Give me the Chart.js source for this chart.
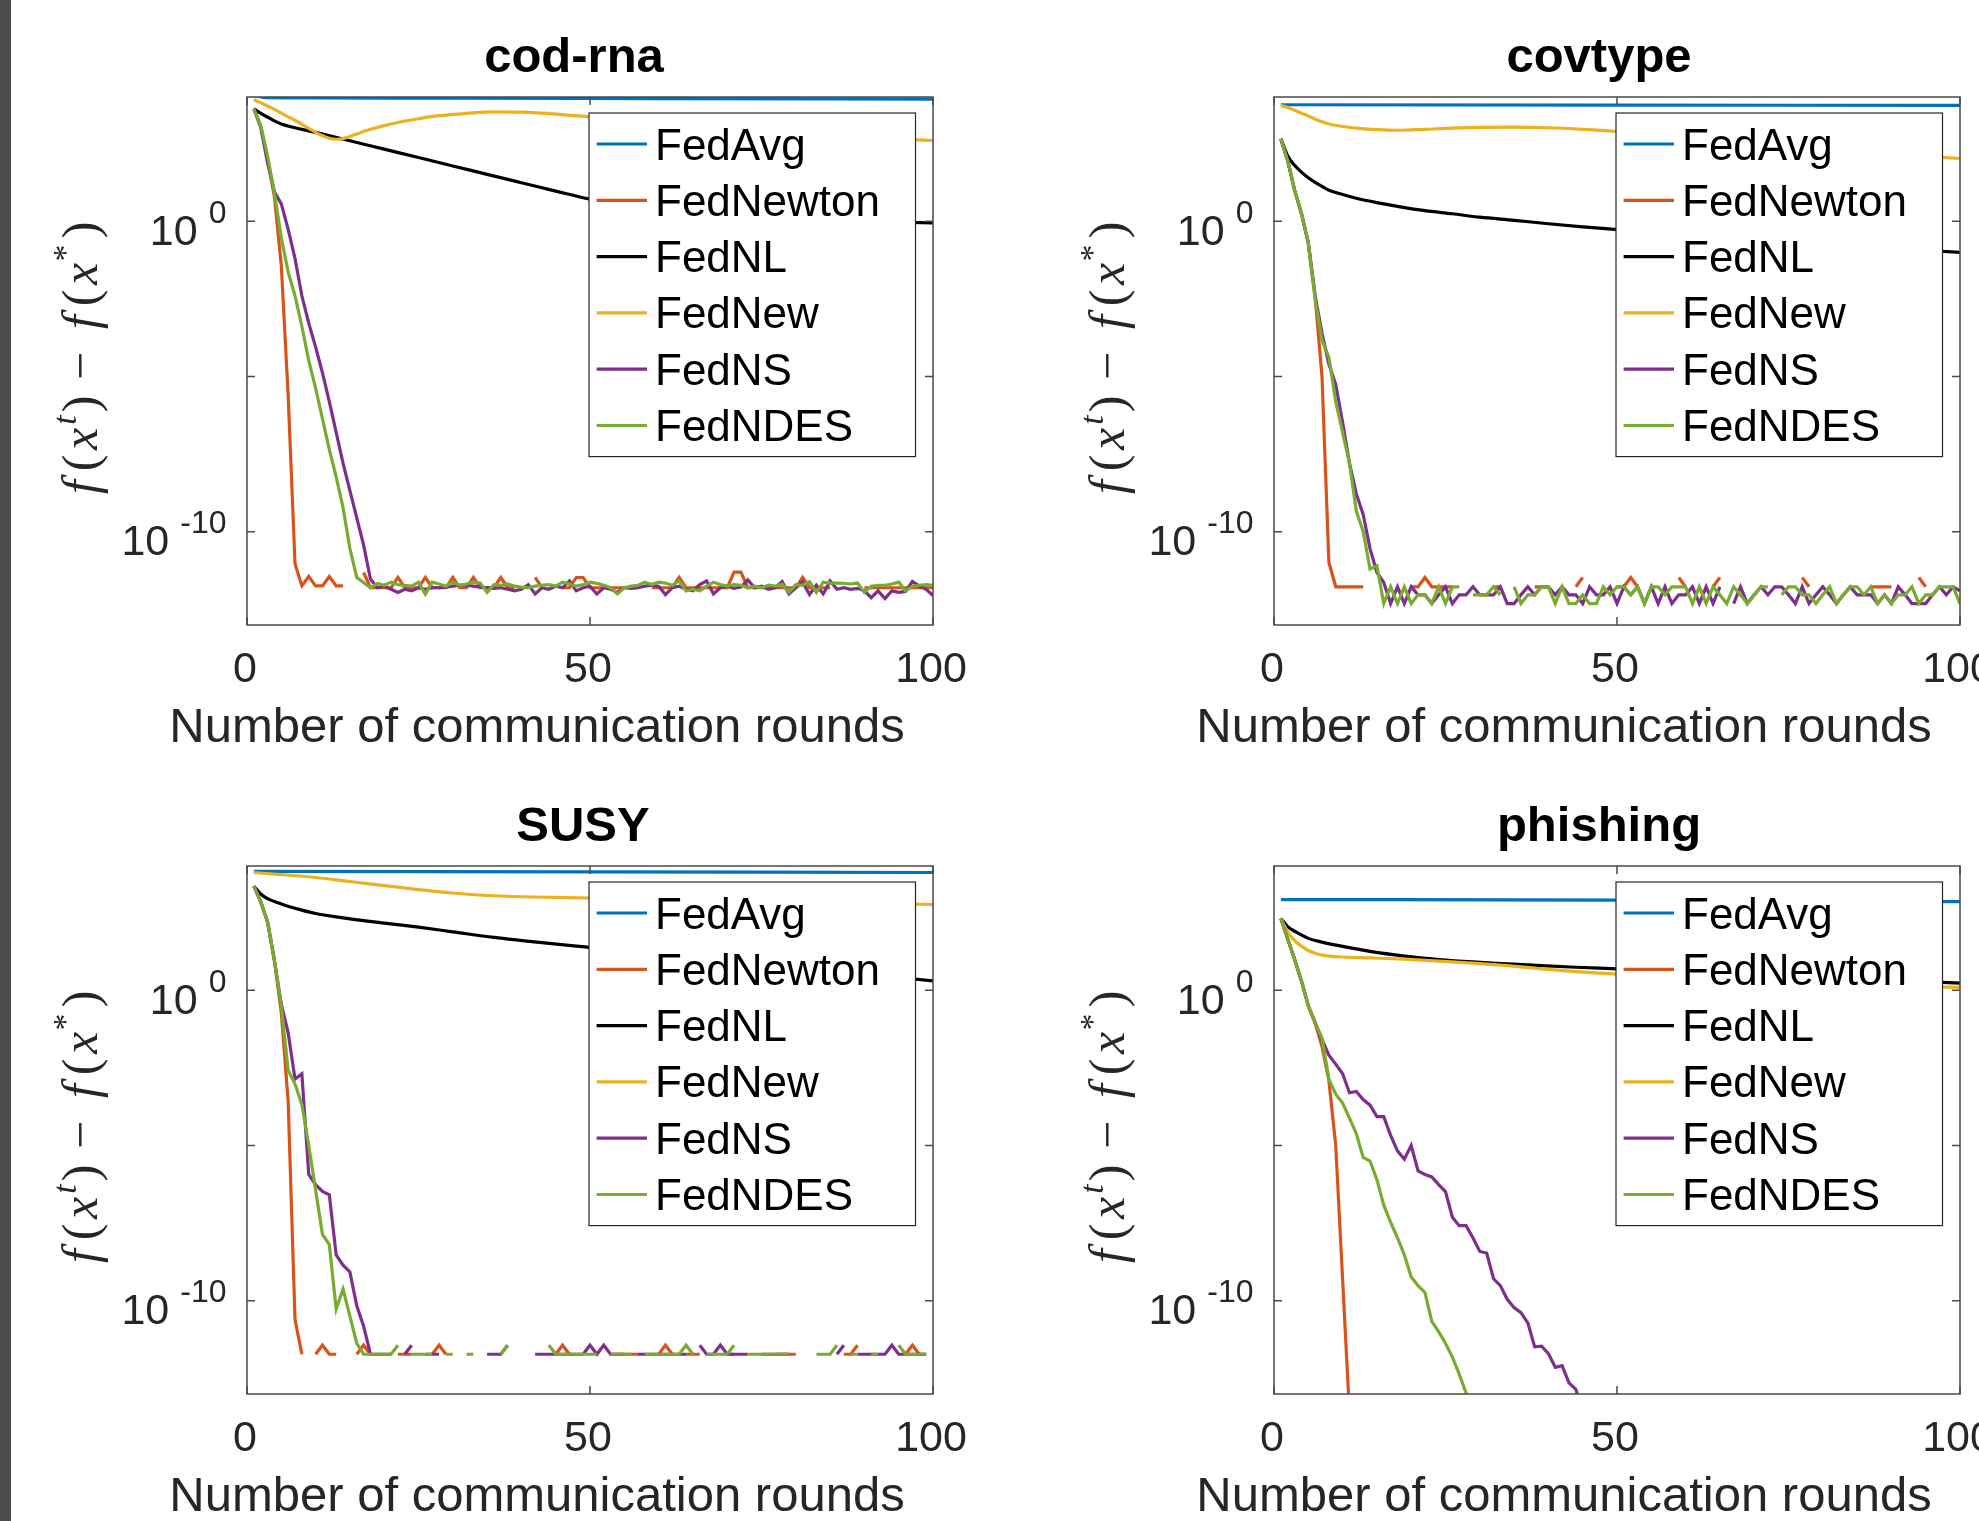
<!DOCTYPE html>
<html>
<head>
<meta charset="utf-8">
<script src="https://cdn.jsdelivr.net/npm/chart.js@4.4.1/dist/chart.umd.min.js"></script>
<style>
  html, body { margin: 0; padding: 0; background: #fff; overflow: hidden; }
  body { width: 1979px; height: 1521px; position: relative; }
  #strip { position: absolute; left: 0; top: 0; width: 11px; height: 1521px; background: #4b4b4b; z-index: 2; }
  .panel { position: absolute; width: 1013px; height: 760px; }
</style>
</head>
<body>
<div id="strip"></div>
<div class="panel" style="left:0px;top:0px"><canvas id="c1" width="1013" height="760"></canvas></div>
<div class="panel" style="left:1027px;top:0px"><canvas id="c2" width="1013" height="760"></canvas></div>
<div class="panel" style="left:0px;top:768.5px"><canvas id="c3" width="1013" height="760"></canvas></div>
<div class="panel" style="left:1027px;top:768.5px"><canvas id="c4" width="1013" height="760"></canvas></div>
<script>
// ---- data (log10 of f(x^t) - f(x^*)) ----
const methods = ['FedAvg', 'FedNewton', 'FedNL', 'FedNew', 'FedNS', 'FedNDES'];
const colors = ['#0072BD', '#D95319', '#000000', '#EDB120', '#7E2F8E', '#77AC30'];
const xTicks = [0, 50, 100];
const xTickLabels = ['0', '50', '100'];
const yTickExponents = [0, -5, -10];
const yLabelExponents = [0, -10];
const xTitle = 'Number of communication rounds';

// smooth curves: [round, log10 value]
const codrnaAvg = [[1, 4.05], [3, 3.98], [10, 3.97], [30, 3.96], [60, 3.95], [100, 3.93]];
const codrnaNL = [[1, 3.62], [2, 3.47], [3, 3.35], [4, 3.23], [5, 3.13], [10, 2.86], [15, 2.59], [20, 2.32], [25, 2.05], [30, 1.78], [35, 1.51], [40, 1.24], [45, 0.97], [50, 0.71], [60, 0.36], [70, 0.16], [80, 0.04], [90, -0.02], [100, -0.05]];
const codrnaNew = [[1, 3.91], [2, 3.82], [3, 3.71], [4, 3.6], [5, 3.48], [6, 3.36], [7, 3.25], [8, 3.12], [9, 2.99], [10, 2.86], [11, 2.75], [12, 2.67], [13, 2.64], [14, 2.66], [15, 2.73], [16, 2.81], [18, 2.96], [20, 3.08], [22, 3.18], [25, 3.3], [28, 3.4], [32, 3.47], [36, 3.52], [40, 3.51], [45, 3.45], [50, 3.36], [60, 3.18], [70, 2.98], [80, 2.81], [90, 2.68], [100, 2.6]];
// per-round values, rounds 1..100 (null = not plotted)
const codrnaNewton = [3.62, 3.04, 2.0, 0.78, -1.42, -5.6, -11.03, -11.74, -11.44, -11.74,
  -11.74, -11.44, -11.74, -11.74, null, null, -11.31, -11.8, -11.8, -11.8,
  -11.8, -11.47, -11.8, -11.8, -11.8, -11.47, -11.8, -11.8, -11.8, -11.47,
  -11.8, -11.8, -11.47, -11.8, -11.8, -11.8, -11.47, -11.8, -11.8, null,
  null, -11.47, -11.8, null, null, -11.8, -11.8, -11.47, -11.47, -11.8,
  -11.8, -11.8, -11.8, -11.8, -11.8, null, null, null, -11.8, -11.8,
  -11.8, -11.8, -11.47, -11.8, -11.8, -11.8, -11.8, -11.8, -11.8, -11.8,
  -11.3, -11.3, -11.8, -11.8, -11.8, -11.8, -11.8, -11.8, -11.8, -11.8,
  -11.47, -11.8, -11.8, -11.8, -11.8, null, null, null, null, -11.8,
  -11.8, -11.8, -11.8, -11.8, -11.8, -11.8, -11.8, -11.8, -11.8, -11.8];
const codrnaNS = [3.62, 3.04, 1.88, 0.95, 0.56, -0.26, -1.2, -2.4, -3.28, -4.05,
  -4.88, -5.81, -6.8, -7.79, -8.67, -9.55, -10.43, -11.52, -11.8, -11.75,
  -11.85, -11.95, -11.85, -11.9, -11.8, -11.85, -11.8, -11.8, -11.78, -11.75,
  -11.72, -11.72, -11.75, -11.78, -11.8, -11.82, -11.8, -11.85, -11.9, -11.85,
  -11.7, -12.0, -11.8, -11.85, -11.75, -11.8, -11.58, -11.9, -11.8, -11.75,
  -12.0, -11.8, -11.85, -11.95, -11.8, -11.82, -11.8, -11.75, -11.72, -11.75,
  -12.02, -11.8, -11.75, -11.85, -11.9, -11.7, -11.58, -12.0, -11.8, -11.75,
  -11.82, -11.78, -11.55, -11.8, -11.75, -11.85, -11.8, -11.6, -12.0, -11.8,
  -11.62, -12.02, -11.72, -12.0, -11.58, -11.85, -11.8, -11.85, -11.82, -11.9,
  -12.12, -11.9, -12.15, -11.9, -11.95, -11.92, -11.6, -11.75, -11.85, -12.05];
const codrnaNDES = [3.62, 3.09, 2.1, 0.9, -0.54, -1.63, -2.4, -3.39, -4.49, -5.37,
  -6.36, -7.35, -8.23, -9.22, -10.54, -11.47, -11.63, -11.8, -11.66, -11.72,
  -11.62, -11.7, -11.72, -11.75, -11.62, -12.0, -11.62, -11.68, -11.75, -11.62,
  -11.72, -11.68, -11.62, -11.65, -11.95, -11.7, -11.72, -11.68, -11.75, -11.78,
  -11.8, -11.75, -11.72, -11.7, -11.75, -11.62, -11.68, -11.75, -11.7, -11.62,
  -11.66, -11.72, -11.8, -12.0, -11.8, -11.75, -11.72, -11.62, -11.7, -11.62,
  -11.65, -11.72, -11.58, -11.9, -11.85, -11.9, -11.75, -11.62, -11.7, -11.75,
  -11.7, -11.72, -11.8, -11.75, -11.8, -11.72, -11.75, -11.68, -11.95, -11.7,
  -11.72, -11.6, -11.95, -11.62, -11.65, -11.65, -11.66, -11.68, -11.65, -11.95,
  -11.75, -11.72, -11.72, -11.68, -11.62, -11.9, -11.75, -11.72, -11.7, -11.72];

const covAvg = [[1, 3.75], [50, 3.74], [100, 3.73]];
const covNL = [[1, 2.65], [2, 2.1], [3, 1.8], [4, 1.58], [5, 1.4], [6, 1.25], [7, 1.12], [8, 1.0], [10, 0.86], [12, 0.74], [15, 0.6], [18, 0.48], [22, 0.34], [26, 0.24], [30, 0.13], [35, 0.03], [40, -0.08], [45, -0.18], [50, -0.27], [60, -0.45], [70, -0.6], [80, -0.74], [90, -0.87], [100, -1.0]];
const covNew = [[1, 3.73], [2, 3.66], [3, 3.57], [4, 3.48], [5, 3.39], [6, 3.29], [7, 3.2], [8, 3.13], [10, 3.05], [12, 3.0], [15, 2.95], [18, 2.93], [22, 2.96], [26, 3.0], [30, 3.02], [35, 3.03], [40, 3.01], [45, 2.96], [50, 2.89], [60, 2.7], [70, 2.5], [80, 2.3], [90, 2.15], [100, 2.02]];
const covNewton = [2.65, 1.95, 1.0, 0.25, -0.7, -2.45, -5.0, -10.98, -11.77, -11.77,
  -11.77, -11.77, -11.77, null, null, null, null, null, null, -11.77,
  -11.77, -11.47, -11.77, -11.77, -11.77, -11.77, null, null, null, null,
  null, -11.77, -11.77, null, null, null, null, -11.77, -11.77, -11.77,
  null, null, null, -11.77, -11.47, null, null, null, null, -11.77,
  -11.77, -11.47, -11.77, null, null, null, null, null, -11.47, -11.77,
  null, null, null, -11.77, -11.47, null, null, null, null, null,
  null, null, null, null, null, null, -11.47, -11.77, null, null,
  null, null, null, null, null, null, -11.77, -11.77, -11.77, -11.77,
  null, null, null, -11.47, -11.77, null, null, null, null, null];
const covNS = [2.65, 1.95, 1.0, 0.25, -0.7, -2.4, -3.61, -4.6, -5.26, -6.47,
  -7.79, -8.78, -9.44, -10.54, -11.31, -11.63, -12.31, -11.77, -12.31, -11.77,
  -12.03, -12.03, -12.31, -12.03, -11.77, -12.31, -12.03, -12.03, -11.77, -12.03,
  -12.03, -12.03, -11.77, -12.31, -12.31, -12.03, -11.77, -12.03, -11.77, -11.77,
  -12.03, -11.77, -12.03, -12.03, -12.31, -11.77, -12.03, -12.03, -11.77, -12.31,
  -11.77, -12.03, -11.77, -12.31, -11.77, -12.31, -11.77, -12.31, -12.03, -12.03,
  -11.77, -12.31, -11.77, -12.31, -11.77, null, -12.31, -11.77, -12.31, -12.03,
  -11.77, -12.03, -11.77, -11.77, -12.03, -12.31, -11.77, -12.31, -12.03, -11.77,
  -12.03, -12.31, -12.03, -11.77, -12.03, -12.03, -12.03, -12.31, -12.03, -12.31,
  -11.77, -12.03, -12.31, -12.31, -12.31, -12.03, -11.77, -12.03, -11.77, -11.9];
const covNDES = [2.65, 1.95, 1.0, 0.25, -0.7, -2.51, -3.83, -4.38, -5.81, -6.8,
  -7.79, -9.33, -9.99, -11.2, -11.09, -12.31, -11.77, -12.31, -11.77, -12.31,
  -12.03, -12.03, -12.31, -11.77, -12.31, -11.77, -11.77, null, -12.03, -12.03,
  -12.03, -11.77, -12.03, null, -11.77, -12.31, -12.03, -12.03, -11.77, -11.77,
  -12.31, -11.77, -12.31, -12.31, -12.03, -12.31, -12.31, -11.77, -12.03, -11.77,
  -11.77, -12.03, -11.77, -12.31, -11.77, -11.77, -12.03, -11.77, -11.77, -11.77,
  -12.31, -11.77, -12.31, -11.77, -12.03, -12.31, -11.77, -12.03, -12.31, -12.03,
  -11.77, -11.77, null, -12.03, -11.77, -11.77, -12.03, -12.03, -12.31, -12.03,
  -11.77, -12.31, -12.03, -11.77, -11.77, -12.03, -11.77, -12.31, -12.03, -12.31,
  -12.03, -12.03, -11.77, -12.31, -12.03, -12.03, -11.77, -11.77, -11.77, -12.31];

const susyAvg = [[1, 3.83], [50, 3.81], [100, 3.79]];
const susyNL = [[1, 3.35], [2, 3.1], [3, 2.95], [5, 2.78], [8, 2.58], [10, 2.47], [15, 2.3], [20, 2.16], [25, 2.03], [30, 1.88], [36, 1.7], [43, 1.53], [50, 1.38], [60, 1.16], [70, 0.95], [80, 0.74], [90, 0.52], [100, 0.3]];
const susyNew = [[1, 3.79], [5, 3.72], [10, 3.63], [15, 3.5], [20, 3.37], [25, 3.24], [30, 3.13], [35, 3.05], [40, 3.01], [50, 2.97], [60, 2.93], [70, 2.89], [80, 2.84], [90, 2.8], [100, 2.76]];
const susyNewton = [3.35, 2.85, 2.2, 0.95, -0.72, -3.57, -10.6, -11.72, null, -11.72,
  -11.43, -11.72, -11.72, null, null, -11.72, -11.43, -11.72, null, null,
  null, -11.72, -11.72, -11.72, null, null, -11.72, -11.43, -11.72, null,
  null, null, null, null, null, null, null, null, null, null,
  null, null, null, null, -11.72, -11.43, -11.72, null, null, null,
  null, null, -11.72, -11.72, -11.72, -11.72, -11.72, null, null, -11.72,
  -11.43, -11.72, null, -11.72, -11.72, -11.72, null, null, null, -11.72,
  -11.72, null, null, null, null, null, -11.72, -11.72, -11.72, -11.72,
  null, null, null, null, null, null, -11.72, -11.72, -11.43, null,
  null, null, null, null, null, -11.72, -11.43, -11.72, -11.72, null];
const susyNS = [3.35, 2.85, 2.2, 0.95, -0.45, -1.37, -2.86, -2.69, -5.93, -6.26,
  -6.48, -6.59, -8.52, -8.85, -9.07, -10.16, -10.82, -11.72, -11.72, -11.72,
  -11.72, null, -11.72, -11.43, null, -11.72, -11.72, -11.72, null, null,
  null, null, null, null, -11.72, -11.72, -11.72, -11.43, null, null,
  null, -11.72, -11.72, -11.72, -11.72, -11.72, -11.72, -11.72, -11.72, -11.43,
  -11.72, -11.43, -11.72, -11.72, -11.72, null, -11.72, -11.72, -11.72, -11.72,
  -11.72, -11.72, -11.72, -11.72, null, -11.43, -11.72, -11.72, -11.43, -11.72,
  -11.72, -11.72, -11.72, null, -11.72, -11.72, -11.72, -11.72, -11.72, null,
  null, null, null, null, null, -11.72, -11.43, null, -11.72, -11.72,
  -11.72, -11.72, -11.72, -11.43, -11.72, -11.72, -11.72, -11.72, -11.72, null];
const susyNDES = [3.35, 2.85, 2.2, 0.95, -0.49, -2.58, -3.02, -3.68, -5.0, -6.43,
  -7.86, -8.19, -10.27, -9.62, -10.49, -11.37, -11.72, -11.72, -11.72, -11.72,
  -11.72, -11.43, null, -11.72, -11.72, -11.72, -11.72, null, -11.72, -11.72,
  null, -11.72, -11.72, null, null, null, -11.72, -11.43, null, null,
  null, null, null, -11.43, -11.72, -11.72, -11.72, -11.72, -11.72, -11.72,
  -11.72, null, -11.72, -11.72, -11.72, -11.72, null, -11.72, -11.72, -11.72,
  -11.72, -11.72, -11.72, -11.43, -11.72, null, -11.72, -11.72, -11.72, -11.72,
  -11.43, null, -11.72, -11.72, -11.72, -11.72, -11.72, -11.72, -11.72, null,
  null, null, -11.72, -11.72, -11.72, -11.43, null, -11.72, -11.72, null,
  -11.72, -11.72, null, null, -11.43, -11.72, -11.72, -11.72, -11.72, null];

const phAvg = [[1, 2.92], [50, 2.9], [100, 2.85]];
const phNL = [[1, 2.31], [2, 2.05], [3, 1.9], [5, 1.67], [7, 1.55], [10, 1.41], [14, 1.25], [19, 1.1], [24, 0.99], [29, 0.91], [34, 0.85], [39, 0.79], [44, 0.74], [50, 0.69], [60, 0.6], [70, 0.5], [80, 0.42], [90, 0.33], [100, 0.23]];
const phNew = [[1, 2.31], [2, 1.88], [3, 1.6], [4, 1.42], [5, 1.28], [6, 1.19], [7, 1.13], [8, 1.1], [10, 1.07], [14, 1.04], [19, 1.0], [24, 0.94], [29, 0.87], [34, 0.79], [39, 0.69], [44, 0.6], [50, 0.52], [60, 0.42], [70, 0.32], [80, 0.23], [90, 0.15], [100, 0.09]];
const phNewton = [2.31, 1.65, 1.0, 0.3, -0.5, -1.05, -1.81, -2.91, -5.0, -9.3, -13.6];
const phNS = [2.31, 1.65, 1.0, 0.3, -0.5, -1.05, -1.59, -2.09, -2.38, -2.69,
  -3.3, -3.26, -3.52, -3.7, -4.07, -4.07, -4.67, -5.17, -5.44, -5.0,
  -5.82, -5.93, -6.01, -6.26, -6.48, -7.31, -7.58, -7.58, -7.97, -8.41,
  -8.46, -9.29, -9.51, -9.95, -10.22, -10.38, -10.71, -11.48, -11.46, -11.7,
  -12.14, -12.09, -12.64, -12.85, -13.6];
const phNDES = [2.31, 1.65, 1.0, 0.3, -0.5, -1.05, -1.54, -2.86, -3.35, -3.63,
  -4.12, -4.62, -5.38, -5.5, -6.1, -6.92, -7.47, -7.97, -8.52, -9.23,
  -9.51, -9.73, -10.66, -10.99, -11.37, -11.81, -12.36, -12.97, -13.57];

// ---- helpers ----
const SANS = '"Liberation Sans", Arial, Helvetica, sans-serif';
const SERIF = '"Liberation Serif", "Times New Roman", serif';

function fromPairs(pairs) {
  return pairs.map(p => ({ x: p[0], y: Math.pow(10, p[1]) }));
}
function fromRounds(vals) {
  return vals.map((v, i) => ({ x: i + 1, y: v === null ? null : Math.pow(10, v) }));
}

// axes box, ticks, labels, title and legend, placed from the chart's scales
const panelDecor = {
  id: 'panelDecor',
  afterDatasetsDraw(chart, args, opts) {
    const ctx = chart.ctx;
    const ca = chart.chartArea;
    const xs = chart.scales.x;
    const ys = chart.scales.y;
    const cx = (ca.left + ca.right) / 2;
    ctx.save();

    // box + inward ticks
    ctx.strokeStyle = '#4a4a4a';
    ctx.lineWidth = 1.5;
    ctx.strokeRect(ca.left, ca.top, ca.right - ca.left, ca.bottom - ca.top);
    ctx.beginPath();
    xTicks.forEach(v => {
      const px = xs.getPixelForValue(v);
      ctx.moveTo(px, ca.bottom); ctx.lineTo(px, ca.bottom - 8);
      ctx.moveTo(px, ca.top); ctx.lineTo(px, ca.top + 8);
    });
    yTickExponents.forEach(e => {
      const py = ys.getPixelForValue(Math.pow(10, e));
      ctx.moveTo(ca.left, py); ctx.lineTo(ca.left + 8, py);
      ctx.moveTo(ca.right, py); ctx.lineTo(ca.right - 8, py);
    });
    ctx.stroke();

    ctx.fillStyle = '#262626';
    // x tick labels
    ctx.font = '43px ' + SANS;
    ctx.textAlign = 'center';
    ctx.textBaseline = 'alphabetic';
    xTicks.forEach((v, i) => {
      ctx.fillText(xTickLabels[i], xs.getPixelForValue(v) - 2, ca.bottom + 57);
    });

    // y tick labels 10^k
    yLabelExponents.forEach(e => {
      const py = ys.getPixelForValue(Math.pow(10, e));
      const supRight = ca.left - 20.5;
      const sup = String(e);
      ctx.textAlign = 'right';
      ctx.font = '32px ' + SANS;
      ctx.fillText(sup, supRight, py + 1.5);
      const w = ctx.measureText(sup).width;
      ctx.font = '43px ' + SANS;
      ctx.fillText('10', supRight - w - 11, py + 23.5);
    });

    // x axis title
    ctx.textAlign = 'center';
    ctx.font = '49px ' + SANS;
    ctx.fillText(xTitle, cx - 53, ca.bottom + 117);

    // panel title
    ctx.fillStyle = '#000';
    ctx.font = 'bold 49px ' + SANS;
    ctx.fillText(opts.title, cx + opts.titleShift, ca.top - 25);

    // y axis title f(x^t) - f(x^*), rotated
    ctx.save();
    ctx.fillStyle = '#262626';
    ctx.translate(ca.left - 150, (ca.top + ca.bottom) / 2);
    ctx.rotate(-Math.PI / 2);
    ctx.textAlign = 'center';
    const it = 'italic 50px ' + SERIF;
    const up = '50px ' + SERIF;
    const pieces = [
      ['f', -126, 0, it], ['(', -102, 0, up], ['x', -78, 0, it], ['t', -59, -21, 'italic 34px ' + SERIF],
      [')', -43, 0, up], ['\u2212', -5, 0, up],
      ['f', 39, 0, it], ['(', 63, 0, up], ['x', 87, 0, it], ['*', 108, -21, '34px ' + SERIF], [')', 131, 0, up]
    ];
    pieces.forEach(p => {
      ctx.font = p[3];
      ctx.fillText(p[0], p[1], p[2]);
    });
    ctx.restore();

    // legend box
    const boxW = 326.5, boxH = 343.6;
    const bx = ca.right - 17.5 - boxW;
    const by = ca.top + 16;
    ctx.fillStyle = '#fff';
    ctx.fillRect(bx, by, boxW, boxH);
    ctx.strokeStyle = '#262626';
    ctx.lineWidth = 1.2;
    ctx.strokeRect(bx, by, boxW, boxH);
    ctx.textAlign = 'left';
    ctx.font = '44px ' + SANS;
    chart.data.datasets.forEach((ds, i) => {
      const y = by + 31 + 56.3 * i;
      ctx.strokeStyle = ds.borderColor;
      ctx.lineWidth = 3.2;
      ctx.beginPath();
      ctx.moveTo(bx + 7.6, y);
      ctx.lineTo(bx + 58, y);
      ctx.stroke();
      ctx.fillStyle = '#000';
      ctx.fillText(ds.label, bx + 66, y + 15.5);
    });
    ctx.restore();
  }
};

function makePanel(id, title, titleShift, avg, newton, nl, fedNew, ns, ndes) {
  const series = [fromPairs(avg), fromRounds(newton), fromPairs(nl), fromPairs(fedNew), fromRounds(ns), fromRounds(ndes)];
  const smooth = [true, false, true, true, false, false];
  const datasets = series.map((data, i) => ({
    label: methods[i],
    data: data,
    borderColor: colors[i],
    backgroundColor: colors[i],
    borderWidth: 3.2,
    pointRadius: 0,
    fill: false,
    spanGaps: false,
    tension: 0,
    cubicInterpolationMode: smooth[i] ? 'monotone' : 'default',
    order: methods.length - i
  }));

  new Chart(document.getElementById(id), {
    type: 'line',
    data: { datasets: datasets },
    options: {
      responsive: false,
      animation: false,
      events: [],
      layout: { padding: { left: 247, top: 97, right: 80, bottom: 135 } },
      plugins: {
        legend: { display: false },
        title: { display: false },
        tooltip: { enabled: false },
        panelDecor: { title: title, titleShift: titleShift }
      },
      scales: {
        x: { type: 'linear', display: false, min: 0, max: 100 },
        y: { type: 'logarithmic', display: false, min: 1e-13, max: 1e4 }
      }
    },
    plugins: [panelDecor]
  });
}

makePanel('c1', 'cod-rna', -16, codrnaAvg, codrnaNewton, codrnaNL, codrnaNew, codrnaNS, codrnaNDES);
makePanel('c2', 'covtype', -18, covAvg, covNewton, covNL, covNew, covNS, covNDES);
makePanel('c3', 'SUSY', -7, susyAvg, susyNewton, susyNL, susyNew, susyNS, susyNDES);
makePanel('c4', 'phishing', -18, phAvg, phNewton, phNL, phNew, phNS, phNDES);
</script>
</body>
</html>
